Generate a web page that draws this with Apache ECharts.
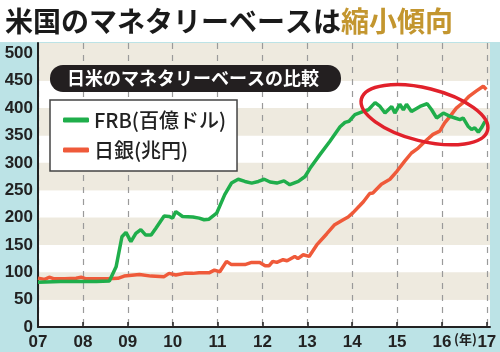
<!DOCTYPE html>
<html><head><meta charset="utf-8">
<script src="https://cdn.jsdelivr.net/npm/echarts@6/dist/echarts.min.js"></script>
<style>html,body{margin:0;padding:0;background:#fff}#c{width:500px;height:352px}</style>
</head><body><div id="c"></div>
<script>
const yearTicks = [2007,2008,2009,2010,2011,2012,2013,2014,2015,2016,2017];
const yTicks = [0,50,100,150,200,250,300,350,400,450,500];
const seriesNames = ['FRB(百億ドル)','日銀(兆円)'];
const frbYears = [2007.00,2007.5,2008.0,2008.3,2008.59,2008.74,2008.87,2008.96,2009.07,2009.18,2009.29,2009.40,2009.52,2009.63,2009.81,2009.92,2010.00,2010.07,2010.22,2010.45,2010.59,2010.70,2010.81,2010.98,2011.16,2011.31,2011.46,2011.61,2011.76,2011.91,2012.04,2012.17,2012.32,2012.48,2012.61,2012.80,2012.95,2013.06,2013.28,2013.50,2013.73,2013.84,2013.93,2014.06,2014.25,2014.36,2014.51,2014.62,2014.73,2014.88,2014.95,2015.06,2015.14,2015.21,2015.32,2015.51,2015.67,2015.77,2015.88,2016.03,2016.18,2016.29,2016.40,2016.47,2016.58,2016.66,2016.73,2016.81,2016.88,2016.96];
const frbValues = [82,83,83,83,84,110,165,173,156,171,178,168,168,181,203,202,199,211,202,201,199,196,197,208,242,263,270,266,263,266,270,265,263,267,260,266,275,290,315,339,366,374,376,388,394,397,410,403,391,403,391,407,397,407,394,403,408,397,382,391,385,382,379,382,367,361,364,356,364,376];
const bojYears = [2007.00,2007.15,2007.25,2007.36,2007.6,2007.85,2007.96,2008.07,2008.3,2008.55,2008.78,2008.92,2009.26,2009.52,2009.81,2009.92,2010.07,2010.26,2010.45,2010.59,2010.81,2010.93,2011.05,2011.20,2011.31,2011.61,2011.76,2011.94,2012.06,2012.15,2012.23,2012.32,2012.46,2012.55,2012.72,2012.79,2012.91,2013.04,2013.21,2013.43,2013.61,2013.80,2013.91,2014.02,2014.17,2014.25,2014.39,2014.46,2014.65,2014.84,2015.00,2015.17,2015.32,2015.47,2015.62,2015.80,2015.95,2016.06,2016.18,2016.32,2016.47,2016.61,2016.76,2016.92,2016.99];
const bojValues = [89,87,91,88,88,89,91,88,88,88,89,93,96,93,92,98,95,98,98,99,99,104,101,120,114,114,118,118,112,112,120,118,123,121,129,125,132,129,150,170,187,196,201,209,222,229,244,245,261,270,285,303,318,327,339,352,358,373,385,400,410,422,431,440,434];

const chart = echarts.init(document.getElementById('c'), null, {renderer:'canvas'});
const beige = '#eeeadf';
const num = "'Liberation Sans Narrow','Arial Narrow','Liberation Sans',Arial,sans-serif";
const jp = "'Noto Sans CJK JP','Noto Sans',sans-serif";
const bandColors = yTicks.map((v,i)=> i%2===0 ? '#ffffff' : beige);
bandColors[10] = beige;
chart.setOption({
  animation:false,
  backgroundColor:'#ffffff',
  title:[
    {text:'{a|米国のマネタリーベースは}{b|縮小傾向}', left:0, top:2,
     textStyle:{rich:{a:{fontSize:28,fontWeight:'bold',fontFamily:jp,color:'#1a1a1a'},b:{fontSize:28,fontWeight:'bold',fontFamily:jp,color:'#c3962f'}}}},
    {text:'日米のマネタリーベースの比較', left:50, top:65, backgroundColor:'#231f20', borderRadius:13, padding:[3,22,4,17],
     textStyle:{color:'#fff', fontSize:18, fontWeight:'bold', fontFamily:jp, lineHeight:20}}
  ],
  legend:{
    orient:'vertical', left:50, top:100, data:seriesNames,
    backgroundColor:'#fff', borderColor:'#444', borderWidth:1.5, borderRadius:0,
    padding:[9,11,10,13], itemWidth:26, itemHeight:5, itemGap:8, icon:'roundRect',
    textStyle:{fontSize:20, fontFamily:jp, color:'#222', lineHeight:22, fontWeight:500}
  },
  grid:{left:38, right:10, top:43, bottom:25, show:true, backgroundColor:beige, borderWidth:0},
  xAxis:{
    type:'value', min:2007, max:2017.07, interval:1,
    axisLine:{lineStyle:{color:'#222', width:2}},
    axisTick:{inside:true, length:5, lineStyle:{color:'#222', width:1.5}, customValues:yearTicks},
    axisLabel:{customValues:yearTicks, margin:7, fontSize:17, fontWeight:'bold', color:'#222', fontFamily:num,
      formatter:v=>String(v%100).padStart(2,'0')},
    splitLine:{show:true, lineStyle:{color:'#9a9a9a', type:[6,6], width:1.2}}
  },
  yAxis:{
    type:'value', min:0, max:519, interval:50,
    axisLine:{show:true, lineStyle:{color:'#222', width:2}},
    axisTick:{show:false},
    axisLabel:{customValues:yTicks, margin:5, fontSize:17, fontWeight:'bold', color:'#222', fontFamily:num},
    splitLine:{show:false},
    splitArea:{show:true, areaStyle:{color:bandColors}}
  },
  series:[
    {name:seriesNames[0], type:'line', showSymbol:false, color:'#1fae4b', lineStyle:{width:3.5, color:'#1fae4b'},
     data:frbYears.map((t,i)=>[t,frbValues[i]]), z:3},
    {name:seriesNames[1], type:'line', showSymbol:false, color:'#ef5a3a', lineStyle:{width:3.5, color:'#ef5a3a'},
     data:bojYears.map((t,i)=>[t,bojValues[i]]), z:2}
  ]
});
const c = chart.convertToPixel({gridIndex:0}, [2015.61, 388]);
chart.setOption({graphic:[
  {type:'rect', shape:{x:0,y:42,width:500,height:310}, style:{fill:'#bce3e6'}, z:-10, silent:true},
  {type:'text', left:454, top:333, style:{text:'(年)', font:"bold 13px "+jp, fill:'#222'}},
  {type:'ellipse', shape:{cx:0, cy:0, rx:65, ry:26.5}, x:c[0], y:c[1], rotation:-0.243,
   style:{fill:'none', stroke:'#e1212b', lineWidth:3.5}, z:100}
]});
</script></body></html>
